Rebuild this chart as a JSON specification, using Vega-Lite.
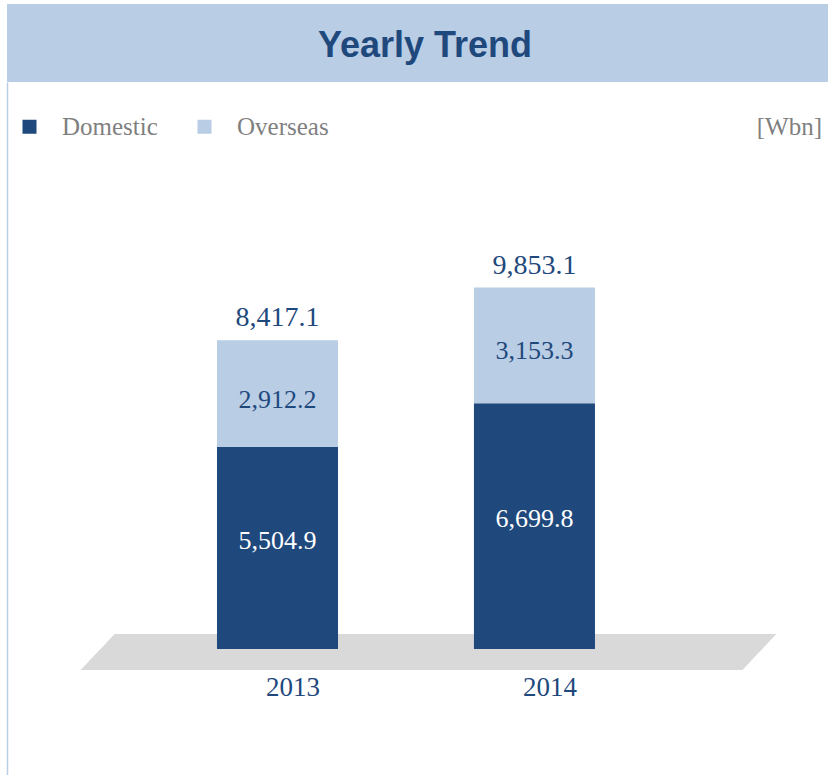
{
  "$schema": "https://vega.github.io/schema/vega-lite/v6.json",
  "background": "white",
  "padding": {"left": 7, "top": 4, "right": 0, "bottom": 0},
  "spacing": 0,
  "config": {
    "view": {"stroke": null},
    "font": "Liberation Serif",
    "axisY": {"domain": true, "domainColor": "#b9cde5", "domainWidth": 1.5, "ticks": false, "labels": false, "grid": false}
  },
  "datasets": {
    "sales": [
      {"year": "2013", "type": "Domestic", "value": 5504.9},
      {"year": "2013", "type": "Overseas", "value": 2912.2},
      {"year": "2014", "type": "Domestic", "value": 6699.8},
      {"year": "2014", "type": "Overseas", "value": 3153.3}
    ]
  },
  "vconcat": [
    {
      "width": 821,
      "height": 78,
      "view": {"fill": "#b9cde5", "stroke": null},
      "data": {"values": [{"t": "Yearly Trend"}]},
      "mark": {"type": "text", "font": "Liberation Sans", "fontWeight": "bold", "fontSize": 36, "color": "#1f497d", "dx": 7.5, "dy": 3, "baseline": "middle", "align": "center"},
      "encoding": {"text": {"field": "t"}}
    },
    {
      "width": 821,
      "height": 693,
      "data": {"name": "sales"},
      "title": {"text": "[Wbn]", "anchor": "end", "frame": "group", "orient": "top", "offset": -83, "dx": -6, "font": "Liberation Serif", "fontSize": 25, "fontWeight": "normal", "color": "#7f7f7f", "baseline": "bottom"},
      "layer": [
        {
          "mark": {"type": "point", "shape": "M -0.8705 -0.0432 L 1.0317 -0.0432 L 0.9338 0.0604 L -0.9683 0.0604 Z", "size": 483025, "filled": true, "fill": "#d9d9d9", "opacity": 1, "strokeWidth": 0},
          "encoding": {
            "y": {"datum": 0, "type": "quantitative", "title": null, "scale": {"domain": [-3435, 15458], "nice": false, "zero": false}}
          }
        },
        {
          "mark": {"type": "bar"},
          "encoding": {
            "x": {"field": "year", "type": "nominal", "title": null,
                  "scale": {"paddingInner": 0.529, "paddingOuter": 0.862, "align": 0.474},
                  "axis": {"title": null, "domain": false, "ticks": false, "labelAngle": 0, "labelFont": "Liberation Serif", "labelFontSize": 27, "labelColor": "#1f497d", "labelPadding": 25, "labelOffset": 15.5, "offset": -126}},
            "y": {"field": "value", "type": "quantitative", "title": null, "stack": "zero"},
            "order": {"field": "type", "sort": "ascending"},
            "color": {"field": "type", "type": "nominal",
                      "scale": {"domain": ["Domestic", "Overseas"], "range": ["#1f497d", "#b9cde5"]},
                      "legend": {"title": null, "orient": "none", "legendX": 10, "legendY": 110, "direction": "horizontal", "symbolType": "square", "symbolSize": 196, "symbolStrokeWidth": 0, "labelFont": "Liberation Serif", "labelFontSize": 25, "labelColor": "#7f7f7f", "labelOffset": 20, "columnPadding": 34, "padding": 0}}
          }
        },
        {
          "mark": {"type": "text", "font": "Liberation Serif", "fontSize": 28, "color": "#1f497d", "baseline": "alphabetic", "dy": -14},
          "encoding": {
            "x": {"field": "year", "type": "nominal", "title": null},
            "y": {"aggregate": "sum", "field": "value", "type": "quantitative", "title": null},
            "text": {"aggregate": "sum", "field": "value", "type": "quantitative", "format": ",.1f"}
          }
        },
        {
          "transform": [
            {"stack": "value", "groupby": ["year"], "sort": [{"field": "type", "order": "ascending"}], "as": ["lo", "hi"]},
            {"fold": ["lo", "hi"], "as": ["edge", "pos"]},
            {"filter": {"field": "type", "equal": "Overseas"}}
          ],
          "mark": {"type": "text", "font": "Liberation Serif", "fontSize": 26, "color": "#1f497d", "baseline": "middle", "dy": 6},
          "encoding": {
            "x": {"field": "year", "type": "nominal", "title": null},
            "y": {"aggregate": "mean", "field": "pos", "type": "quantitative", "title": null},
            "text": {"field": "value", "type": "quantitative", "format": ",.1f"}
          }
        },
        {
          "transform": [
            {"stack": "value", "groupby": ["year"], "sort": [{"field": "type", "order": "ascending"}], "as": ["lo", "hi"]},
            {"fold": ["lo", "hi"], "as": ["edge", "pos"]},
            {"filter": {"field": "type", "equal": "Domestic"}}
          ],
          "mark": {"type": "text", "font": "Liberation Serif", "fontSize": 26, "color": "white", "baseline": "middle", "dy": -7},
          "encoding": {
            "x": {"field": "year", "type": "nominal", "title": null},
            "y": {"aggregate": "mean", "field": "pos", "type": "quantitative", "title": null},
            "text": {"field": "value", "type": "quantitative", "format": ",.1f"}
          }
        }
      ]
    }
  ]
}
